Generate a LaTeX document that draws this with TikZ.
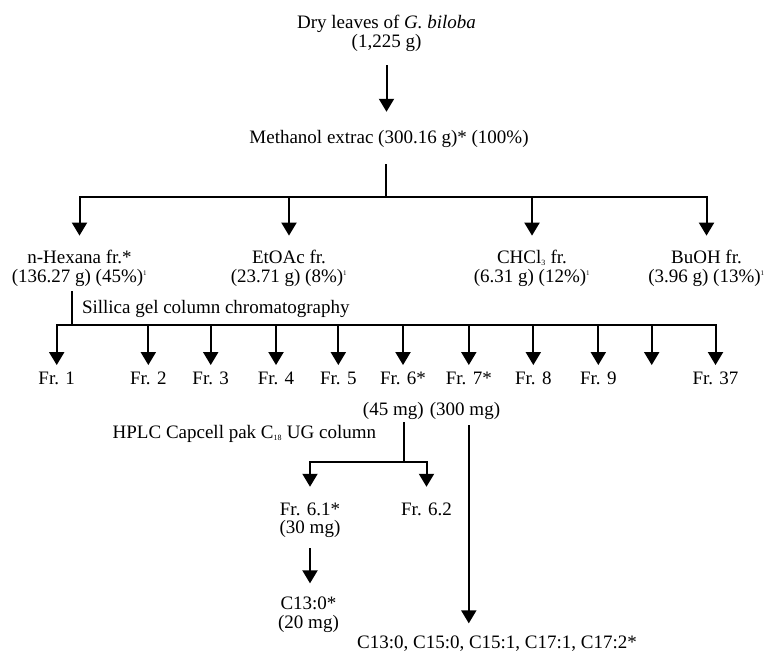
\documentclass[tikz,border=0pt]{standalone}
\usepackage{fontspec}
\setmainfont{Liberation Serif}
\usetikzlibrary{arrows.meta}
\newcommand\mytwo[2]{\begin{tabular}[t]{@{}c@{}}#1\\#2\end{tabular}}
\newcommand\supone{\textsuperscript{\fontsize{7}{7}\selectfont 1}}
\newcommand\subsm[1]{\textsubscript{\fontsize{8}{8}\selectfont #1}}
\begin{document}
\begin{tikzpicture}[x=1pt,y=-1pt,
  every node/.style={inner sep=0pt, outer sep=0pt, font=\fontsize{19}{18.5}\selectfont},
  lbl/.style={anchor=base, text height=12.95pt, text depth=5.55pt},
  ml/.style={anchor=base},
  ln/.style={line width=2pt, line cap=rect},
  arr/.style={line width=2pt, -{Triangle[width=15pt,length=13pt]}}]
\useasboundingbox (0,0) rectangle (767,656);

% top
\node[ml] (dry) at (386.5,28.3) {\mytwo{Dry leaves of \textit{G. biloba}}{(1,225 g)}};
\node[lbl] (meth) at (389,143.3) {Methanol extrac (300.16 g)* (100\%)};
\draw[arr, shorten <=12.6pt, shorten >=18.6pt] (dry.south) -- (dry.south |- meth.north);

% solvent fractions
\coordinate (jA) at (386,196.5);
\node[ml] (hex) at (79.5,263.3) {\mytwo{n-Hexana fr.*}{(136.27 g) (45\%)\supone}};
\node[ml] (eto) at (289,263.3) {\mytwo{EtOAc fr.}{(23.71 g) (8\%)\supone}};
\node[ml] (chc) at (532,263.3) {\mytwo{CHCl\subsm{3} fr.}{(6.31 g) (12\%)\supone}};
\node[ml] (buo) at (706.5,263.3) {\mytwo{BuOH fr.}{(3.96 g) (13\%)\supone}};
\draw[ln, shorten <=16pt] (jA |- meth.south) -- (jA);
\draw[ln] (hex.north |- jA) -- (buo.north |- jA);
\foreach \n in {hex,eto,chc,buo}
  \draw[arr, shorten >=14.3pt] (\n.north |- jA) -- (\n.north);

% silica column
\coordinate (jB) at (71.7,325);
\node[anchor=base west] (sil) at (82,313.3) {Sillica gel column chromatography};
\draw[ln, shorten <=4.4pt] (jB |- hex.south) -- (jB);
\node[lbl] (f1) at (56.7,384.3) {Fr. 1};
\node[lbl] (f2) at (148.3,384.3) {Fr. 2};
\node[lbl] (f3) at (210.7,384.3) {Fr. 3};
\node[lbl] (f4) at (276,384.3) {Fr. 4};
\node[lbl] (f5) at (338.3,384.3) {Fr. 5};
\node[lbl] (f6) at (403,384.3) {Fr. 6*};
\node[lbl] (f7) at (468.8,384.3) {Fr. 7*};
\node[lbl] (f8) at (533.3,384.3) {Fr. 8};
\node[lbl] (f9) at (598.3,384.3) {Fr. 9};
\coordinate (fb) at (651.7,371.35);
\node[lbl] (f37) at (715.5,384.3) {Fr. 37};
\draw[ln] (f1.north |- jB) -- (f37.north |- jB);
\foreach \n in {f1,f2,f3,f4,f5,f6,f7,f8,f9,fb,f37}
  \draw[arr, shorten >=6.3pt] (\n.north |- jB) -- (\n.north);
\node[lbl] (mg6) at (393.3,415) {(45 mg)};
\node[lbl] (mg7) at (465,415) {(300 mg)};

% HPLC
\node[anchor=base west] (hplc) at (112.7,438.3) {HPLC Capcell pak C\subsm{18} UG column};
\coordinate (jC) at (404,461.7);
\draw[ln, shorten <=2.8pt] (jC |- mg6.south) -- (jC);
\node[ml] (f61) at (310,515) {\mytwo{Fr. 6.1*}{(30 mg)}};
\node[lbl] (f62) at (426.5,515) {Fr. 6.2};
\draw[ln] (f61.north |- jC) -- (f62.north |- jC);
\foreach \n in {f61,f62}
  \draw[arr, shorten >=15.3pt] (\n.north |- jC) -- (\n.north);
\node[ml] (c13) at (308.5,609.5) {\mytwo{C13:0*}{(20 mg)}};
\draw[arr, shorten <=9.2pt, shorten >=13.2pt] (f61.south) -- (f61.south |- c13.north);

% Fr. 7 result
\node[lbl] (bot) at (497,648.3) {C13:0, C15:0, C15:1, C17:1, C17:2*};
\draw[arr, shorten <=4.5pt, shorten >=12pt] (mg7.south -| f7) -- (bot.north -| f7);
\end{tikzpicture}
\end{document}
